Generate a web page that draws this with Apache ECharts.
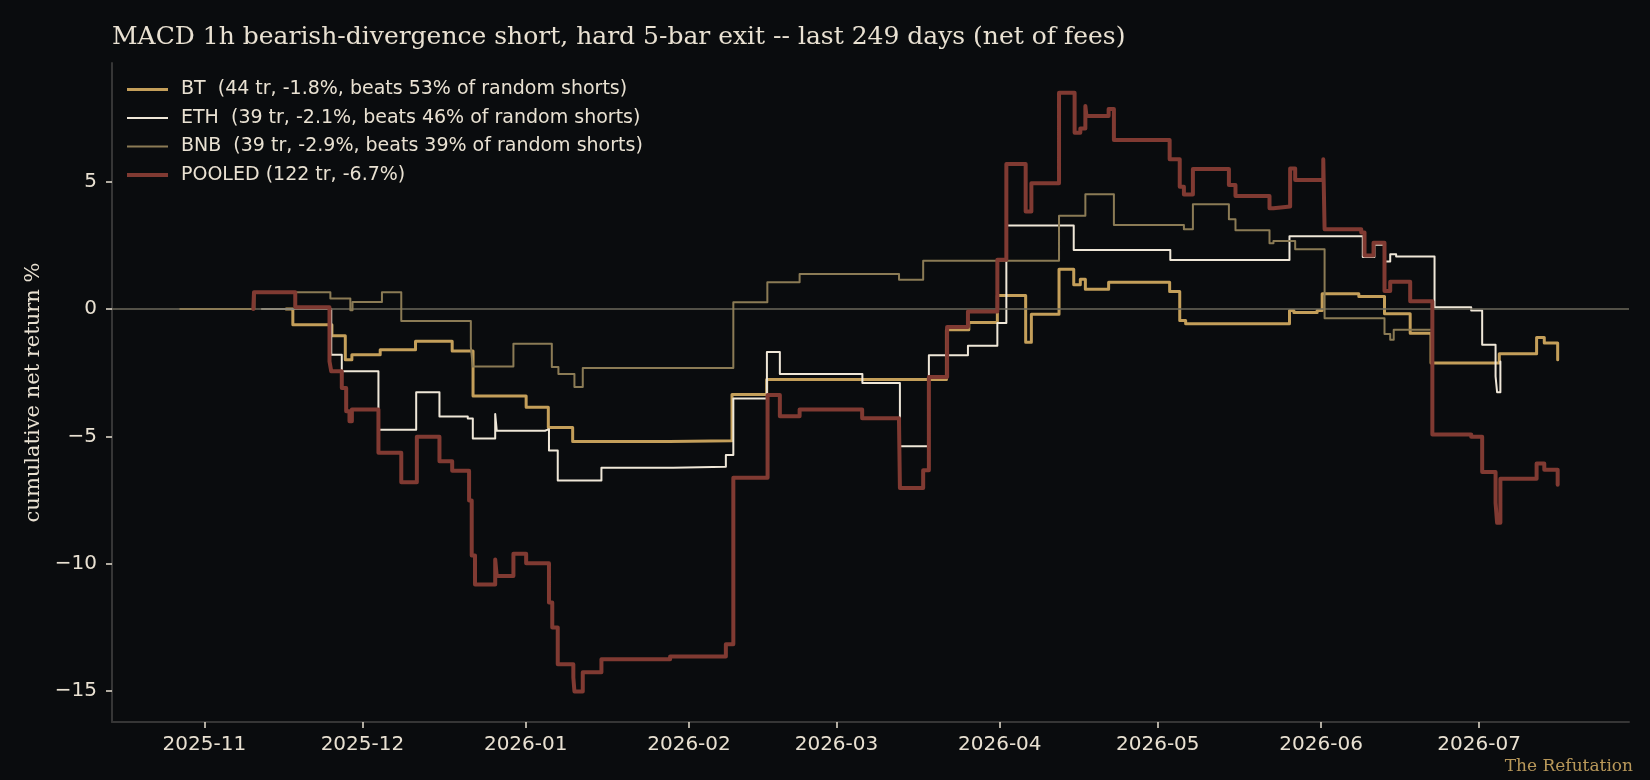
<!DOCTYPE html>
<html>
<head>
<meta charset="utf-8">
<title>MACD 1h bearish-divergence short</title>
<script src="https://cdn.jsdelivr.net/npm/echarts@6/dist/echarts.min.js"></script>
<style>
  html, body { margin: 0; padding: 0; background: #0a0c0e; }
  #chart { width: 1650px; height: 780px; }
</style>
</head>
<body>
<div id="chart"></div>
<script>
// cumulative net return % after each closed trade (held until the next one)
var bt = [
	['2025-11-16 12:00', 0], ['2025-11-17 19:00', -0.62], ['2025-11-25 05:00', -1.05],
	['2025-11-27 18:00', -1.99], ['2025-11-29 00:00', -1.8], ['2025-12-04 09:00', -1.6],
	['2025-12-11 02:00', -1.27], ['2025-12-18 01:00', -1.65], ['2025-12-22 00:00', -3.42],
	['2026-01-01 02:00', -3.86], ['2026-01-05 07:00', -4.65], ['2026-01-09 22:00', -5.2],
	['2026-01-28 06:00', -5.17], ['2026-02-09 04:00', -3.36], ['2026-02-15 18:00', -2.77],
	['2026-03-21 21:00', -0.82], ['2026-03-26 03:00', -0.53], ['2026-03-31 13:00', 0.53],
	['2026-04-05 22:00', -1.31], ['2026-04-07 00:00', -0.21], ['2026-04-12 06:00', 1.56],
	['2026-04-15 01:00', 0.95], ['2026-04-16 07:00', 1.17], ['2026-04-17 06:00', 0.77],
	['2026-04-21 16:00', 1.05], ['2026-05-03 06:00', 0.69], ['2026-05-05 04:00', -0.45],
	['2026-05-06 07:00', -0.58], ['2026-05-26 00:00', -0.06], ['2026-05-26 20:00', -0.14],
	['2026-05-31 06:00', -0.06], ['2026-06-01 05:00', 0.6], ['2026-06-08 04:00', 0.49],
	['2026-06-13 01:00', -0.19], ['2026-06-17 22:00', -0.95], ['2026-06-21 21:00', -2.12],
	['2026-07-04 20:00', -1.76], ['2026-07-11 22:00', -1.12], ['2026-07-13 09:00', -1.34],
	['2026-07-15 22:00', -1.99]
];

var eth = [
	['2025-11-11 22:00', 0], ['2025-11-25 02:00', -1.8], ['2025-11-27 02:00', -2.45],
	['2025-12-04 01:00', -4.74], ['2025-12-11 05:00', -3.27], ['2025-12-15 15:00', -4.22],
	['2025-12-21 00:00', -4.3], ['2025-12-21 23:00', -5.09], ['2025-12-26 05:00', -4.12],
	['2025-12-26 12:00', -4.78], ['2026-01-04 16:00', -4.72], ['2026-01-05 10:00', -5.56],
	['2026-01-07 02:00', -6.74], ['2026-01-15 09:00', -6.24], ['2026-01-29 00:00', -6.2],
	['2026-02-08 00:00', -5.73], ['2026-02-09 10:00', -3.52], ['2026-02-15 19:00', -1.69],
	['2026-02-18 06:00', -2.55], ['2026-03-05 22:00', -2.91], ['2026-03-13 01:00', -5.39],
	['2026-03-18 13:00', -1.82], ['2026-03-25 23:00', -1.44], ['2026-03-31 13:00', -0.55],
	['2026-04-02 06:00', 3.28], ['2026-04-15 01:00', 2.32], ['2026-05-03 09:00', 1.92],
	['2026-05-26 00:00', 2.86], ['2026-06-08 22:00', 2.04], ['2026-06-11 03:00', 2.52],
	['2026-06-12 23:00', 1.86], ['2026-06-14 03:00', 2.15], ['2026-06-15 06:00', 2.06],
	['2026-06-22 13:00', 0.07], ['2026-06-29 12:00', -0.06], ['2026-07-01 14:00', -1.4],
	['2026-07-04 03:00', -2.65], ['2026-07-04 10:00', -3.27], ['2026-07-05 01:00', -2.06]
];

var bnb = [
	['2025-10-27 10:00', 0], ['2025-11-10 12:00', 0.66], ['2025-11-24 22:00', 0.41],
	['2025-11-28 17:00', -0.05], ['2025-11-29 03:00', 0.27], ['2025-12-04 17:00', 0.66],
	['2025-12-08 09:00', -0.47], ['2025-12-21 14:00', -1.5], ['2025-12-21 23:00', -2.26],
	['2025-12-29 16:00', -1.37], ['2026-01-05 23:00', -2.28], ['2026-01-07 05:00', -2.55],
	['2026-01-10 06:00', -3.06], ['2026-01-11 20:00', -2.32], ['2026-02-09 10:00', 0.26],
	['2026-02-15 21:00', 1.05], ['2026-02-22 00:00', 1.37], ['2026-03-12 21:00', 1.15],
	['2026-03-17 11:00', 1.89], ['2026-04-12 06:00', 3.66], ['2026-04-17 06:00', 4.51],
	['2026-04-22 16:00', 3.3], ['2026-05-05 23:00', 3.13], ['2026-05-07 16:00', 4.11],
	['2026-05-14 12:00', 3.52], ['2026-05-15 18:00', 3.09], ['2026-05-22 05:00', 2.58],
	['2026-05-22 23:00', 2.67], ['2026-05-27 02:00', 2.35], ['2026-06-01 16:00', -0.36],
	['2026-06-13 01:00', -0.98], ['2026-06-14 03:00', -1.21], ['2026-06-14 19:00', -0.82],
	['2026-06-22 03:00', -2.9]
];

var pooled = [
	['2025-11-10 07:00', 0], ['2025-11-10 10:00', 0.66], ['2025-11-18 06:00', 0.07],
	['2025-11-24 18:00', -2.06], ['2025-11-25 02:00', -2.45], ['2025-11-27 02:00', -3.1],
	['2025-11-27 22:00', -4.02], ['2025-11-28 13:00', -4.41], ['2025-11-29 00:00', -3.95],
	['2025-12-04 01:00', -5.65], ['2025-12-08 09:00', -6.8], ['2025-12-11 08:00', -5.02],
	['2025-12-15 15:00', -5.98], ['2025-12-18 01:00', -6.35], ['2025-12-21 06:00', -7.52],
	['2025-12-21 18:00', -9.68], ['2025-12-22 09:00', -10.82], ['2025-12-26 05:00', -9.84],
	['2025-12-26 12:00', -10.49], ['2025-12-29 16:00', -9.61], ['2026-01-01 02:00', -9.99],
	['2026-01-05 10:00', -11.53], ['2026-01-06 01:00', -12.51], ['2026-01-07 02:00', -13.95],
	['2026-01-10 01:00', -14.47], ['2026-01-10 06:00', -15.02], ['2026-01-11 20:00', -14.27],
	['2026-01-15 09:00', -13.76], ['2026-01-28 10:00', -13.65], ['2026-02-08 00:00', -13.17],
	['2026-02-09 10:00', -6.63], ['2026-02-15 22:00', -3.38], ['2026-02-18 06:00', -4.21],
	['2026-02-22 00:00', -3.95], ['2026-03-05 21:00', -4.29], ['2026-03-12 21:00', -4.5],
	['2026-03-13 01:00', -7.03], ['2026-03-17 11:00', -6.33], ['2026-03-18 13:00', -2.67],
	['2026-03-22 00:00', -0.71], ['2026-03-25 23:00', -0.1], ['2026-03-31 13:00', 1.93],
	['2026-04-02 06:00', 5.69], ['2026-04-05 22:00', 3.83], ['2026-04-07 00:00', 4.94],
	['2026-04-12 06:00', 8.49], ['2026-04-15 05:00', 6.92], ['2026-04-16 07:00', 7.09],
	['2026-04-17 06:00', 7.97], ['2026-04-17 11:00', 7.58], ['2026-04-21 16:00', 7.85],
	['2026-04-22 16:00', 6.64], ['2026-05-03 06:00', 5.88], ['2026-05-05 04:00', 4.8],
	['2026-05-05 23:00', 4.5], ['2026-05-07 16:00', 5.5], ['2026-05-14 12:00', 4.87],
	['2026-05-15 18:00', 4.44], ['2026-05-22 05:00', 3.96], ['2026-05-22 23:00', 4.02],
	['2026-05-26 03:00', 5.52], ['2026-05-27 02:00', 5.07], ['2026-06-01 10:00', 5.88],
	['2026-06-01 16:00', 3.13], ['2026-06-08 15:00', 3.0], ['2026-06-09 06:00', 2.1],
	['2026-06-10 23:00', 2.6], ['2026-06-13 01:00', 0.71], ['2026-06-14 03:00', 1.07],
	['2026-06-17 22:00', 0.3], ['2026-06-22 03:00', -4.93], ['2026-06-29 12:00', -5.02],
	['2026-07-01 14:00', -6.4], ['2026-07-04 03:00', -7.61], ['2026-07-04 10:00', -8.4],
	['2026-07-05 01:00', -6.67], ['2026-07-11 22:00', -6.07], ['2026-07-13 09:00', -6.31],
	['2026-07-15 22:00', -6.9]
];

var seriesNames = [
	'BT  (44 tr, -1.8%, beats 53% of random shorts)',
	'ETH  (39 tr, -2.1%, beats 46% of random shorts)',
	'BNB  (39 tr, -2.9%, beats 39% of random shorts)',
	'POOLED (122 tr, -6.7%)'
];
var monthTicks = ['2025-11-01', '2025-12-01', '2026-01-01', '2026-02-01', '2026-03-01',
	'2026-04-01', '2026-05-01', '2026-06-01', '2026-07-01'];
var yTicks = [-15, -10, -5, 0, 5];

var textColor = '#e9e1d2';
var colors = ['#c49f5a', '#efe7d8', '#8b7b55', '#803a32'];
var widths = [3, 2, 2, 4];

// 'YYYY-MM-DD HH:mm' -> local timestamp
function toTime(s) {
	var p = s.split(/[- :]/).map(Number);
	return new Date(p[0], p[1] - 1, p[2], p[3] || 0, p[4] || 0).getTime();
}

function stepLine(i, rows) {
	return {
		name: seriesNames[i],
		type: 'line',
		step: 'end',
		data: rows.map(function (r) { return [toTime(r[0]), r[1]]; }),
		symbol: 'none',
		silent: true,
		z: 3 + i,
		itemStyle: { color: colors[i] },
		lineStyle: { color: colors[i], width: widths[i], cap: 'round', join: 'round' }
	};
}

var series = [stepLine(0, bt), stepLine(1, eth), stepLine(2, bnb), stepLine(3, pooled)];
series[0].markLine = {
	silent: true,
	symbol: 'none',
	label: { show: false },
	lineStyle: { color: '#6d685b', width: 1.5, type: 'solid' },
	data: [{ yAxis: 0 }]
};

var monthValues = monthTicks.map(toTime);

var chart = echarts.init(document.getElementById('chart'));
var option = {
	backgroundColor: '#0a0c0e',
	animation: false,
	title: {
		text: 'MACD 1h bearish-divergence short, hard 5-bar exit -- last 249 days (net of fees)',
		left: 107,
		top: 20,
		textStyle: { color: textColor, fontFamily: 'DejaVu Serif', fontSize: 25, fontWeight: 'normal' }
	},
	legend: {
		orient: 'vertical',
		left: 122,
		top: 75,
		itemWidth: 41,
		itemHeight: 19,
		itemGap: 9.5,
		selectedMode: false,
		textStyle: { color: textColor, fontFamily: 'DejaVu Sans', fontSize: 19, padding: [0, 0, 0, 8] },
		data: [
			{ name: seriesNames[0], icon: 'path://M0,0H41V3H0Z' },
			{ name: seriesNames[1], icon: 'path://M0,0H41V2H0Z' },
			{ name: seriesNames[2], icon: 'path://M0,0H41V2H0Z' },
			{ name: seriesNames[3], icon: 'path://M0,0H41V4H0Z' }
		]
	},
	grid: {
		left: 112,
		right: 21,
		top: 63,
		bottom: 58,
		containLabel: false,
		outerBoundsMode: 'none'
	},
	xAxis: {
		type: 'value',
		min: toTime('2025-10-14 11:00'),
		max: toTime('2026-07-29 11:00'),
		axisLine: { onZero: false, lineStyle: { color: '#363636', width: 2 } },
		axisTick: { customValues: monthValues, length: 6, lineStyle: { color: textColor, width: 1.5 } },
		axisLabel: {
			customValues: monthValues,
			margin: 13,
			color: textColor,
			fontFamily: 'DejaVu Sans',
			fontSize: 20,
			formatter: function (v) {
				var d = new Date(v);
				return d.getFullYear() + '-' + String(d.getMonth() + 1).padStart(2, '0');
			}
		},
		splitLine: { show: false }
	},
	yAxis: {
		type: 'value',
		min: -16.22,
		max: 9.66,
		name: 'cumulative net return %',
		nameLocation: 'middle',
		nameGap: 67,
		nameRotate: 90,
		nameTextStyle: { color: textColor, fontFamily: 'DejaVu Serif', fontSize: 21 },
		axisLine: { show: true, lineStyle: { color: '#363636', width: 2 } },
		axisTick: { show: true, customValues: yTicks, length: 6, lineStyle: { color: textColor, width: 1.5 } },
		axisLabel: {
			customValues: yTicks,
			margin: 15,
			color: textColor,
			fontFamily: 'DejaVu Sans',
			fontSize: 20,
			formatter: function (v) { return String(v).replace('-', '\u2212'); }
		},
		splitLine: { show: false }
	},
	graphic: [{
		type: 'text',
		right: 17,
		bottom: 5,
		style: { text: 'The Refutation', fill: '#b8985a', font: '17px "DejaVu Serif"' }
	}],
	series: series
};
chart.setOption(option);
</script>
</body>
</html>
